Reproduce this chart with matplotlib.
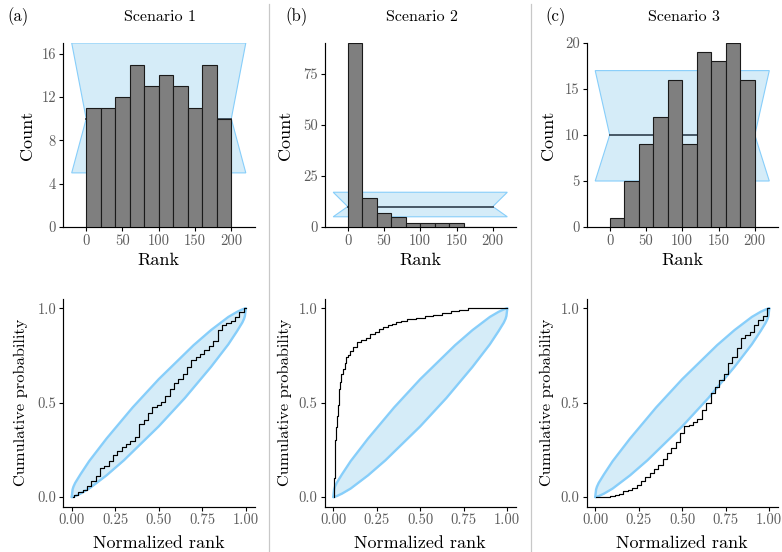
import matplotlib
matplotlib.use('Agg')
import matplotlib.pyplot as plt
from matplotlib.patches import Polygon
from matplotlib.lines import Line2D

plt.rcParams['font.family'] = ['cmr10', 'DejaVu Serif']
plt.rcParams['axes.unicode_minus'] = False

# ---------------- data ----------------
panel_letters = ['(a)', '(b)', '(c)']
titles = ['Scenario 1', 'Scenario 2', 'Scenario 3']

bin_starts = [0, 20, 40, 60, 80, 100, 120, 140, 160, 180]
bin_width = 20
counts_s1 = [11, 11, 12, 15, 13, 14, 13, 11, 15, 10]
counts_s2 = [90, 14, 7, 5, 2, 2, 2, 2, 0, 0]
counts_s3 = [1, 5, 9, 12, 16, 9, 19, 18, 20, 16]
hist_ci = [5, 10, 17]          # lower, median, upper expected count
hist_yticks = [[0, 4, 8, 12, 16], [0, 25, 50, 75], [0, 5, 10, 15, 20]]
rank_ticks = [0, 50, 100, 150, 200]

# ECDF simultaneous band (shared by all scenarios)
band_x = [0, 0.005, 0.01, 0.02, 0.05, 0.1, 0.15, 0.2, 0.25, 0.3, 0.35, 0.4, 0.45,
          0.5, 0.55, 0.6, 0.65, 0.7, 0.75, 0.8, 0.85, 0.9, 0.95, 0.98, 0.99, 0.995, 1]
band_upper = [0, 0.04, 0.055, 0.075, 0.12, 0.19, 0.25, 0.31, 0.365, 0.42, 0.475, 0.525, 0.575,
              0.625, 0.67, 0.715, 0.76, 0.805, 0.845, 0.885, 0.92, 0.955, 0.982, 0.995, 0.998, 1, 1]
band_lower = [0, 0, 0.002, 0.005, 0.018, 0.045, 0.08, 0.115, 0.155, 0.195, 0.24, 0.285, 0.33,
              0.375, 0.425, 0.475, 0.525, 0.58, 0.635, 0.69, 0.75, 0.81, 0.88, 0.925, 0.945, 0.96, 1]

# ECDF of normalized ranks
ecdf1_x = [0.005, 0.025, 0.05, 0.075, 0.1, 0.125, 0.15, 0.175, 0.2, 0.225, 0.25, 0.275, 0.3,
           0.325, 0.35, 0.375, 0.4, 0.425, 0.45, 0.475, 0.5, 0.525, 0.55, 0.575, 0.6, 0.625,
           0.65, 0.675, 0.7, 0.725, 0.75, 0.775, 0.8, 0.825, 0.85, 0.875, 0.9, 0.925, 0.95,
           0.975, 1.0]
ecdf1_y = [0, 0.01, 0.027, 0.04, 0.06, 0.085, 0.11, 0.155, 0.165, 0.19, 0.225, 0.245, 0.265,
           0.28, 0.295, 0.32, 0.385, 0.41, 0.445, 0.48, 0.49, 0.505, 0.535, 0.575, 0.605, 0.628,
           0.655, 0.69, 0.725, 0.74, 0.76, 0.778, 0.80, 0.83, 0.885, 0.91, 0.925, 0.935, 0.955,
           0.98, 1.0]

ecdf2_x = [0.004, 0.006, 0.01, 0.015, 0.02, 0.025, 0.03, 0.035, 0.04, 0.05, 0.06, 0.07, 0.08,
           0.09, 0.1, 0.125, 0.15, 0.175, 0.2, 0.225, 0.25, 0.275, 0.3, 0.325, 0.35, 0.375,
           0.4, 0.45, 0.5, 0.55, 0.6, 0.65, 0.7, 0.75, 0.8, 0.9, 1.0]
ecdf2_y = [0, 0.1, 0.21, 0.3, 0.37, 0.43, 0.49, 0.575, 0.61, 0.655, 0.68, 0.71, 0.74,
           0.755, 0.772, 0.795, 0.82, 0.835, 0.845, 0.865, 0.877, 0.89, 0.9, 0.91, 0.92, 0.927,
           0.933, 0.942, 0.95, 0.958, 0.967, 0.976, 0.984, 0.99, 1.0, 1.0, 1.0]

ecdf3_x = [0.005, 0.025, 0.05, 0.075, 0.1, 0.125, 0.15, 0.175, 0.2, 0.225, 0.25, 0.275, 0.3,
           0.325, 0.35, 0.375, 0.4, 0.425, 0.45, 0.475, 0.5, 0.525, 0.55, 0.575, 0.6, 0.625,
           0.65, 0.675, 0.7, 0.725, 0.75, 0.775, 0.8, 0.825, 0.85, 0.875, 0.9, 0.925, 0.95,
           0.975, 1.0]
ecdf3_y = [0, 0, 0, 0.003, 0.005, 0.01, 0.018, 0.03, 0.04, 0.05, 0.065, 0.085, 0.105,
           0.125, 0.15, 0.17, 0.2, 0.235, 0.26, 0.29, 0.34, 0.375, 0.38, 0.4, 0.415, 0.46,
           0.50, 0.55, 0.585, 0.62, 0.655, 0.71, 0.74, 0.79, 0.845, 0.86, 0.875, 0.91, 0.94,
           0.96, 1.0]

norm_ticks = [0, 0.25, 0.5, 0.75, 1.0]
norm_labels = ['0.00', '0.25', '0.50', '0.75', '1.00']
prob_ticks = [0, 0.5, 1.0]
prob_labels = ['0.0', '0.5', '1.0']

counts = [counts_s1, counts_s2, counts_s3]
ecdfs = [(ecdf1_x, ecdf1_y), (ecdf2_x, ecdf2_y), (ecdf3_x, ecdf3_y)]

# ---------------- style ----------------
W, H = 782, 552
fig = plt.figure(figsize=(W / 100, H / 100), dpi=100)

BAND_FILL = '#d5ecf8'
BAND_EDGE = '#87cefa'
BAR_FILL = '#7f7f7f'
BAR_EDGE = '#1a1a1a'
MED_COL = '#475766'
TICK_COL = '#5c5c5c'

col_left = [63, 324.5, 586.5]
ax_w = 191.5
top_t, top_h = 43, 184
bot_t, bot_h = 299, 207.5
count_lab_x = [27.5, 285, 548]
cum_lab_x = [20.5, 284.5, 546.5]
letter_x = [7, 285, 545]


def px_axes(l, t, w, h):
    return fig.add_axes([l / W, 1 - (t + h) / H, w / W, h / H])


def style(ax):
    for s in ['top', 'right']:
        ax.spines[s].set_visible(False)
    for s in ['left', 'bottom']:
        ax.spines[s].set_linewidth(0.85)
        ax.spines[s].set_color('black')
    ax.tick_params(length=3, width=0.8, color='black', labelcolor=TICK_COL,
                   labelsize=10.5, pad=2)


def ftext(x, y, s, **kw):
    fig.text(x / W, 1 - y / H, s, **kw)


for i in range(3):
    # ---- histogram ----
    ax = px_axes(col_left[i], top_t, ax_w, top_h)
    style(ax)
    lo, med, hi = hist_ci
    x0 = bin_starts[0] - bin_width
    x1 = bin_starts[-1] + 2 * bin_width
    xa = bin_starts[0]
    xb = bin_starts[-1] + bin_width
    poly = Polygon([(x0, hi), (x1, hi), (xb, med), (x1, lo), (x0, lo), (xa, med)],
                   closed=True, facecolor=BAND_FILL, edgecolor=BAND_EDGE, lw=0.8, zorder=1)
    ax.add_patch(poly)
    ax.plot([xa, xb], [med, med], color=MED_COL, lw=1.4, zorder=2)
    ax.bar(bin_starts, counts[i], width=bin_width, align='edge', color=BAR_FILL,
           edgecolor=BAR_EDGE, linewidth=0.8, zorder=3)
    ax.set_xlim(-32, 232)
    ax.set_ylim(0, max(max(counts[i]), hi))
    ax.set_xticks(rank_ticks, [str(t) for t in rank_ticks])
    ax.set_yticks(hist_yticks[i], [str(t) for t in hist_yticks[i]])

    ftext(letter_x[i], 17, panel_letters[i], ha='left', va='center', fontsize=12)
    ftext(col_left[i] + ax_w / 2 + 1.5, 17, titles[i], ha='center', va='center', fontsize=11.5)
    ftext(col_left[i] + ax_w / 2, 260, 'Rank', ha='center', va='center', fontsize=13)
    ftext(count_lab_x[i], top_t + top_h / 2, 'Count', ha='center', va='center',
          rotation=90, fontsize=13)

    # ---- ECDF ----
    ax2 = px_axes(col_left[i], bot_t, ax_w, bot_h)
    style(ax2)
    ax2.fill_between(band_x, band_lower, band_upper, color=BAND_FILL, lw=0, zorder=1)
    ax2.plot(band_x, band_upper, color=BAND_EDGE, lw=1.7, zorder=2, solid_capstyle='round')
    ax2.plot(band_x, band_lower, color=BAND_EDGE, lw=1.7, zorder=2, solid_capstyle='round')
    ex, ey = ecdfs[i]
    ax2.plot(ex, ey, color='black', lw=0.85, drawstyle='steps-mid', zorder=3)
    ax2.set_xlim(-0.05, 1.05)
    ax2.set_ylim(-0.05, 1.05)
    ax2.set_xticks(norm_ticks, norm_labels)
    ax2.set_yticks(prob_ticks, prob_labels)
    ftext(col_left[i] + ax_w / 2, 543, 'Normalized rank', ha='center', va='center', fontsize=13)
    ftext(cum_lab_x[i], bot_t + bot_h / 2, 'Cumulative probability', ha='center',
          va='center', rotation=90, fontsize=11.8)

# separators between columns
for xs, ys in [(269, 4), (531, 4)]:
    fig.add_artist(Line2D([xs / W, xs / W], [0, 1 - ys / H], color='#c8c8c8', lw=0.9))

fig.savefig('out.png', dpi=100)
